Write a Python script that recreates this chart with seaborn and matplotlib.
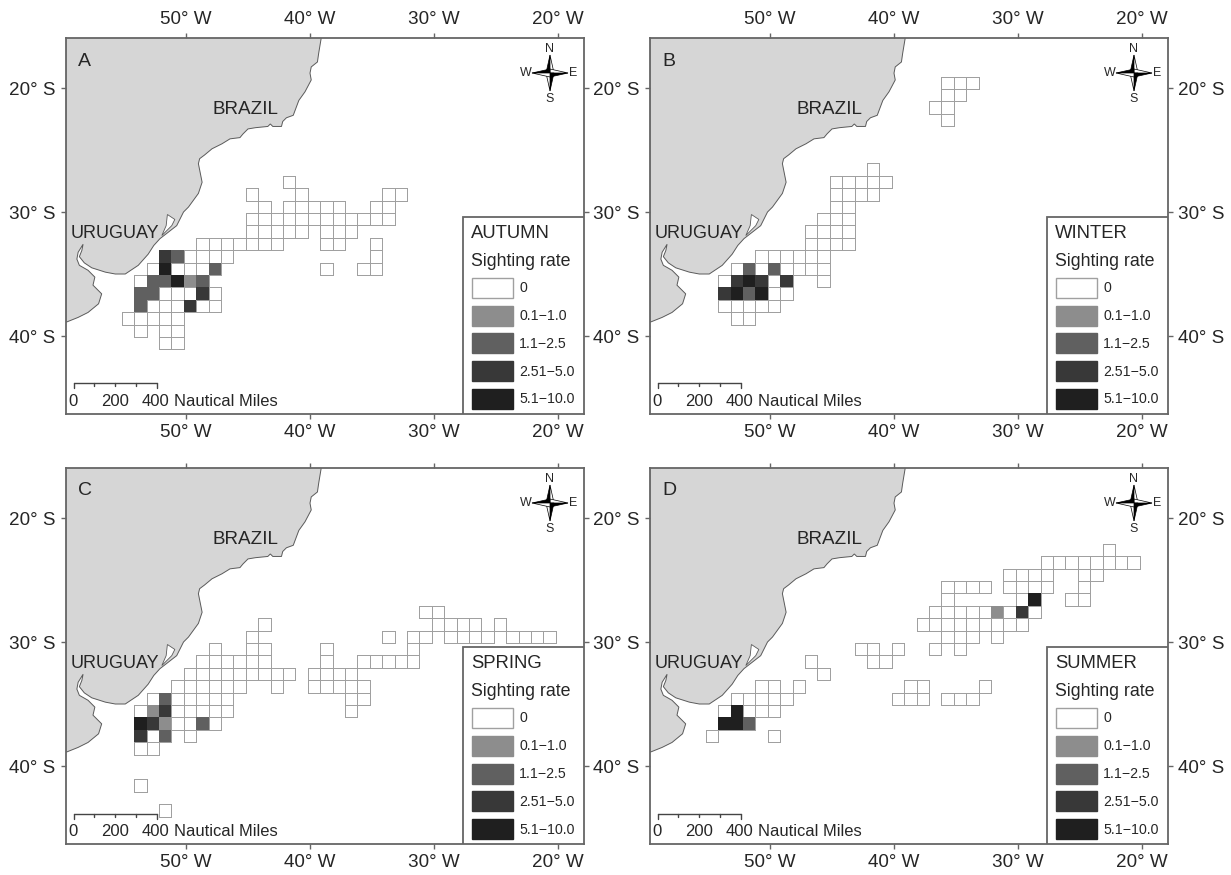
import numpy as np
import pandas as pd
import matplotlib
matplotlib.use("Agg")
import matplotlib.pyplot as plt
from matplotlib.colors import ListedColormap
from matplotlib.patches import Rectangle, Polygon
import seaborn as sns

# ---- data: (north edge lat, west edge of first cell lon, rate class per 1-degree cell)
# '.' = not surveyed, 0 = 0, 1 = 0.1-1.0, 2 = 1.1-2.5, 3 = 2.51-5.0, 4 = 5.1-10.0
AUTUMN = [
    (-27, -42, "0"),
    (-28, -45, "0...0......00"),
    (-29, -44, "0.00000..00"),
    (-30, -45, "000000000000"),
    (-31, -45, "00000.000"),
    (-32, -49, "0000000...00..0"),
    (-33, -52, "320000...........0"),
    (-34, -53, "040002........0..00"),
    (-35, -54, "022412"),
    (-36, -54, "2200030"),
    (-37, -54, "2000300"),
    (-38, -55, "00000"),
    (-39, -54, "0.00"),
    (-40, -52, "00"),
]
WINTER = [
    (-19, -36, "000"),
    (-20, -36, "00"),
    (-21, -37, "00"),
    (-22, -36, "0"),
    (-26, -42, "0"),
    (-27, -45, "00000"),
    (-28, -45, "0000"),
    (-29, -45, "00"),
    (-30, -46, "000"),
    (-31, -47, "0000"),
    (-32, -47, "0000"),
    (-33, -51, "000000"),
    (-34, -53, "02020000"),
    (-35, -54, "034303..0"),
    (-36, -54, "342400"),
    (-37, -54, "00000"),
    (-38, -53, "00"),
]
SPRING = [
    (-27, -31, "00"),
    (-28, -44, "0.............0000.0"),
    (-29, -45, "0..........0.00.0000.0000"),
    (-30, -48, "0..00....0......0"),
    (-31, -49, "000000....0..00000"),
    (-32, -50, "000000000.0000"),
    (-33, -51, "000000..0..00000"),
    (-34, -53, "0200000.........00"),
    (-35, -54, "01300000.........0"),
    (-36, -54, "4310020"),
    (-37, -54, "302.0"),
    (-38, -54, "00"),
    (-41, -54, "0"),
    (-43, -52, "0"),
]
SUMMER = [
    (-22, -23, "0"),
    (-23, -28, "00000000"),
    (-24, -31, "0000..00"),
    (-25, -36, "0000.0000..0"),
    (-26, -36, "0.....04..00"),
    (-27, -37, "000001030"),
    (-28, -38, "000000000"),
    (-29, -36, "000.0"),
    (-30, -43, "00.0..0.0"),
    (-31, -47, "0....00"),
    (-32, -46, "0"),
    (-33, -51, "00.0........00....0"),
    (-34, -53, "00000........000.000"),
    (-35, -54, "04000"),
    (-36, -54, "442"),
    (-37, -55, "0....0"),
]
SEASONS = ["AUTUMN", "WINTER", "SPRING", "SUMMER"]
PANEL_LETTERS = ["A", "B", "C", "D"]
PANEL_ROWS = [AUTUMN, WINTER, SPRING, SUMMER]
RATE_LABELS = ["0", "0.1\u22121.0", "1.1\u22122.5", "2.51\u22125.0", "5.1\u221210.0"]
LON_TICKS = [-50, -40, -30, -20]
LAT_TICKS = [-20, -30, -40]

# South American coast, lon / lat
COAST_LON = [-39.1, -39.3, -39.4, -39.9, -40.0, -39.9, -40.4, -40.9, -41.2, -41.35, -41.9, -42.2,
             -42.3, -43.0, -43.2, -43.4, -44.4, -45.0, -45.4, -45.65, -46.45, -47.1, -47.9, -48.5,
             -48.9, -49.0, -48.9, -48.7, -49.0, -49.8, -50.2, -50.75, -52.1, -52.6, -53.05, -53.85,
             -54.9, -55.7, -56.5, -57.6, -58.2, -58.6, -58.4, -58.3, -58.7, -58.8, -58.6, -57.9,
             -57.35, -57.5, -56.8, -57.05, -57.9, -58.7, -59.7, -59.7, -39.1]
COAST_LAT = [-16.0, -17.2, -17.9, -18.3, -18.8, -19.35, -20.3, -21.0, -21.8, -22.2, -22.4, -22.7,
             -23.1, -23.1, -22.9, -23.1, -23.2, -23.3, -23.7, -24.0, -24.1, -24.5, -24.9, -25.4,
             -25.7, -26.1, -26.6, -27.6, -28.5, -29.6, -30.0, -31.1, -32.15, -32.7, -33.4, -34.3,
             -35.0, -35.0, -34.85, -34.5, -34.1, -33.6, -33.1, -32.6, -33.25, -33.8, -34.3, -34.7,
             -35.25, -35.9, -36.6, -37.4, -38.1, -38.5, -38.9, -15.0, -15.0]
LAGOON_LON = [-51.5, -50.9, -51.15, -51.95, -51.6]
LAGOON_LAT = [-30.2, -30.6, -31.1, -31.9, -31.1]

# ---- styling
sns.set_theme(style="white")
plt.rcParams["font.family"] = ["Liberation Sans", "DejaVu Sans"]
TEXT = "#262626"
SPINE = "#666666"
EDGE = "#a0a0a0"
LAND = "#d6d6d6"
SHADES = ["#ffffff", "#8d8d8d", "#606060", "#383838", "#1f1f1f"]
CMAP = ListedColormap(SHADES)

W, H = 1231, 875
L0, T0, AW, AH = 65.5, 38.0, 518.5, 376.0   # panel A box in pixels
DX, DY = 584.0, 430.0
CELL = 12.4

LATS = np.arange(-15, -48, -1)
LONS = np.arange(-60, -16)
XLIM0 = 10 - (183.7 - L0) / CELL
YLIM0 = 15 - (213.0 - T0) / CELL
GX, GY = 0.185, -0.08   # graticule vs. grid offset


def xi(lon):
    return np.asarray(lon, float) + 60 + GX


def yi(lat):
    return -15 - np.asarray(lat, float) + GY


def to_frame(rows):
    grid = pd.DataFrame(np.nan, index=LATS, columns=LONS)
    for lat, lon0, cells in rows:
        for k, c in enumerate(cells):
            if c != ".":
                grid.loc[lat, lon0 + k] = int(c)
    return grid


def ax_xy(x, y):
    """pixel position inside panel A -> axes fraction"""
    return (x - L0) / AW, 1 - (y - T0) / AH


fig = plt.figure(figsize=(W / 100, H / 100), dpi=100, facecolor="white")

for p, (season, letter, rows) in enumerate(zip(SEASONS, PANEL_LETTERS, PANEL_ROWS)):
    col, row = p % 2, p // 2
    left = L0 + col * DX
    top = T0 + row * DY
    ax = fig.add_axes([left / W, 1 - (top + AH) / H, AW / W, AH / H])
    ax.set_facecolor("white")
    grid = to_frame(rows)

    # land below the cells
    ax.fill(xi(COAST_LON), yi(COAST_LAT), facecolor=LAND, edgecolor="#5a5a5a", lw=0.7, zorder=0.5)
    ax.fill(xi(LAGOON_LON), yi(LAGOON_LAT), facecolor="white", edgecolor="#5a5a5a", lw=0.6, zorder=0.6)

    # surveyed cells: outlines first, then the shaded ones
    sns.heatmap(grid, ax=ax, cmap=CMAP, vmin=-0.5, vmax=4.5, cbar=False, linewidths=0.7,
                linecolor=EDGE, xticklabels=False, yticklabels=False)
    mesh = ax.collections[-1]
    ec = np.zeros((grid.size, 4))
    ec[:, :3] = matplotlib.colors.to_rgb(EDGE)
    ec[:, 3] = (~np.isnan(grid.values)).ravel().astype(float)
    mesh.set_edgecolor(ec)
    mesh.set_zorder(1)
    sns.heatmap(grid.where(grid > 0), ax=ax, cmap=CMAP, vmin=-0.5, vmax=4.5, cbar=False,
                linewidths=0, xticklabels=False, yticklabels=False)
    ax.collections[-1].set_zorder(1.1)

    ax.set_xlim(XLIM0, XLIM0 + AW / CELL)
    ax.set_ylim(YLIM0 + AH / CELL, YLIM0)
    ax.patch.set_visible(True)

    # frame and graticule ticks
    for s in ax.spines.values():
        s.set_visible(True)
        s.set_color(SPINE)
        s.set_linewidth(1.3)
    ax.set_xticks(xi(LON_TICKS))
    ax.set_xticklabels([f"{abs(v)}\u00b0 W" for v in LON_TICKS])
    ax.set_yticks(yi(LAT_TICKS))
    ax.set_yticklabels([f"{abs(v)}\u00b0 S" for v in LAT_TICKS])
    ax.tick_params(axis="both", which="both", length=3.5, width=1.0, color=SPINE,
                   labelcolor=TEXT, labelsize=13.6, top=True, bottom=True, left=True, right=True,
                   labeltop=(row == 0), labelbottom=True,
                   labelleft=True, labelright=(col == 1), pad=4)
    for lab in ax.get_yticklabels():
        lab.set_rotation(0)
    for lab in ax.get_xticklabels():
        lab.set_rotation(0)

    T = dict(transform=ax.transAxes, color=TEXT, clip_on=False)
    x, y = ax_xy(78, 61)
    ax.text(x, y, letter, fontsize=14, ha="left", va="center", zorder=5, **T)
    x, y = ax_xy(245, 109)
    ax.text(x, y, "BRAZIL", fontsize=13.6, ha="center", va="center", zorder=5, **T)
    x, y = ax_xy(70.5, 234)
    ax.text(x, y, "URUGUAY", fontsize=13, ha="left", va="center", zorder=5, **T)

    # compass
    cx, cy = 550.0, 73.0
    for dxu, dyu, nm, lx, ly in [(0, -1, "N", 550, 49), (1, 0, "E", 573, 73),
                                 (0, 1, "S", 550, 99), (-1, 0, "W", 525.5, 73)]:
        tip = ax_xy(cx + 18 * dxu, cy + 18 * dyu)
        c0 = ax_xy(cx, cy)
        for side, fc in [(1, "black"), (-1, "white")]:
            b1 = ax_xy(cx + 4.0 * dyu * side, cy + 4.0 * dxu * side)
            ax.add_patch(Polygon([tip, b1, c0], closed=True, transform=ax.transAxes, facecolor=fc,
                                 edgecolor="black", lw=0.5, zorder=6))
        x, y = ax_xy(lx, ly)
        ax.text(x, y, nm, fontsize=9, ha="center", va="center", zorder=6, **T)

    # scale bar
    sx0, sx1, sy = 73.5, 156.5, 383.5
    x0, y0 = ax_xy(sx0, sy)
    x1, _ = ax_xy(sx1, sy)
    ax.plot([x0, x1], [y0, y0], transform=ax.transAxes, color="#444444", lw=1.0, zorder=5, clip_on=False)
    for k in range(5):
        sx = sx0 + (sx1 - sx0) * k / 4
        tx, ty0 = ax_xy(sx, sy)
        _, ty1 = ax_xy(sx, sy + (5 if k in (0, 4) else 3))
        ax.plot([tx, tx], [ty0, ty1], transform=ax.transAxes, color="#444444", lw=1.0, zorder=5)
    for sx, lab in [(72.7, "0"), (115, "200"), (155.7, "400")]:
        x, y = ax_xy(sx, 402)
        ax.text(x, y, lab, fontsize=12, ha="center", va="center", zorder=5, **T)
    x, y = ax_xy(173.5, 402)
    ax.text(x, y, "Nautical Miles", fontsize=11.9, ha="left", va="center", zorder=5, **T)

    # legend box
    bx0, by0 = ax_xy(463, 414)
    bx1, by1 = ax_xy(584, 217)
    ax.add_patch(Rectangle((bx0, by0), bx1 - bx0, by1 - by0, transform=ax.transAxes, facecolor="white",
                           edgecolor=SPINE, lw=1.3, zorder=7))
    x, y = ax_xy(471, 233)
    ax.text(x, y, season, fontsize=13.3, ha="left", va="center", zorder=8, **T)
    x, y = ax_xy(471, 262)
    ax.text(x, y, "Sighting rate", fontsize=12.8, ha="left", va="center", zorder=8, **T)
    for k, (lab, shade) in enumerate(zip(RATE_LABELS, SHADES)):
        sy0 = 278 + k * 27.75
        a0, b0 = ax_xy(471.5, sy0 + 20)
        a1, b1 = ax_xy(512.5, sy0)
        ax.add_patch(Rectangle((a0, b0), a1 - a0, b1 - b0, transform=ax.transAxes, facecolor=shade,
                               edgecolor=EDGE if k == 0 else shade, lw=1.0, zorder=8))
        x, y = ax_xy(519, sy0 + 10.5)
        ax.text(x, y, lab, fontsize=10.2, ha="left", va="center", zorder=8, **T)

fig.savefig("out.png", dpi=100, facecolor="white")
